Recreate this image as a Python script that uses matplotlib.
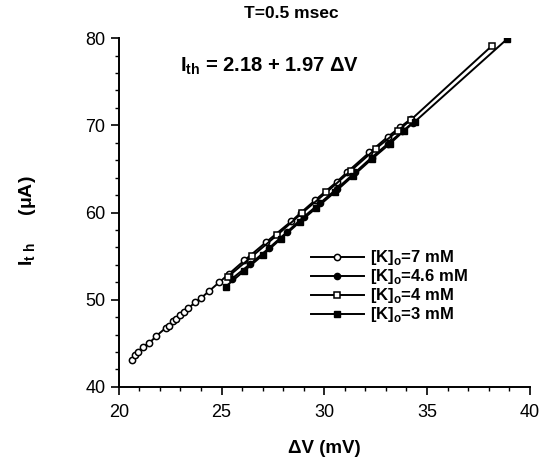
import matplotlib.pyplot as plt

plt.rcParams['font.family'] = ['Liberation Sans', 'DejaVu Sans']

# --- DATA ---
x_7mM = [20.64, 20.78, 20.93, 21.17, 21.47, 21.81, 22.30, 22.44, 22.64, 22.79,
         22.98, 23.18, 23.37, 23.72, 24.01, 24.40, 24.89, 25.38, 26.11, 27.17,
         28.40, 28.87, 29.55, 30.60, 31.10, 32.20, 33.10, 33.70, 34.20]
y_7mM = [43.1, 43.6, 44.0, 44.6, 45.0, 45.8, 46.8, 47.0, 47.5, 47.8,
         48.2, 48.6, 49.0, 49.7, 50.2, 51.0, 52.0, 53.0, 54.5, 56.6,
         59.0, 60.0, 61.4, 63.5, 64.6, 66.9, 68.7, 69.8, 70.7]

x_46mM = [25.5, 26.4, 27.3, 28.2, 29.0, 29.8, 30.6, 31.5, 32.3, 33.1, 33.8, 34.3]
y_46mM = [52.4, 54.1, 55.9, 57.8, 59.5, 61.1, 62.7, 64.6, 66.3, 67.9, 69.3, 70.3]

x_4mM = [25.3, 26.5, 27.7, 28.9, 30.1, 31.3, 32.5, 33.6, 34.2, 38.15]
y_4mM = [52.6, 55.0, 57.4, 59.9, 62.3, 64.8, 67.3, 69.4, 70.6, 79.1]

x_3mM = [25.2, 26.1, 27.0, 27.9, 28.8, 29.6, 30.5, 31.4, 32.3, 33.2, 33.9, 34.4, 38.9]
y_3mM = [51.5, 53.3, 55.1, 57.0, 58.9, 60.5, 62.3, 64.2, 66.1, 67.9, 69.4, 70.4, 79.9]

labels = [r'[K]$_{\mathregular{o}}$=7 mM', r'[K]$_{\mathregular{o}}$=4.6 mM',
          r'[K]$_{\mathregular{o}}$=4 mM', r'[K]$_{\mathregular{o}}$=3 mM']

# --- PLOT ---
fig = plt.figure(figsize=(5.45, 4.65), dpi=100)
ax = fig.add_axes([0.218, 0.168, 0.754, 0.75])

ax.plot(x_7mM, y_7mM, '-o', color='black', lw=1.4, ms=4.5, mfc='white', mew=1.1, label=labels[0])
ax.plot(x_46mM, y_46mM, '-o', color='black', lw=1.4, ms=4.5, mfc='black', label=labels[1])
ax.plot(x_4mM, y_4mM, '-s', color='black', lw=1.4, ms=5, mfc='white', mew=1.1, label=labels[2])
ax.plot(x_3mM, y_3mM, '-s', color='black', lw=1.4, ms=5, mfc='black', label=labels[3])

ax.set_xlim(20, 40)
ax.set_ylim(40, 80)
ax.set_xticks([20, 25, 30, 35, 40])
ax.set_xticks(range(20, 41), minor=True)
ax.set_yticks([40, 50, 60, 70, 80])
ax.set_yticks(range(40, 81, 2), minor=True)
ax.tick_params(which='major', length=6, width=1.2, labelsize=13, direction='out')
ax.tick_params(which='minor', length=3, width=1.0, direction='out')
ax.tick_params(axis='x', pad=6)
for s in ['top', 'right']:
    ax.spines[s].set_visible(False)
for s in ['left', 'bottom']:
    ax.spines[s].set_linewidth(1.4)

ax.set_xlabel('ΔV (mV)', fontsize=13.5, fontweight='bold', labelpad=14)
fig.text(0.05, 0.525, r'I$_{\mathregular{t\ h}}$     (μA)', rotation=90,
         fontsize=14, fontweight='bold', ha='center', va='center')

fig.text(0.535, 0.972, 'T=0.5 msec', fontsize=12.5, fontweight='bold', ha='center', va='center')
fig.text(0.495, 0.857, r'I$_{\mathregular{th}}$ = 2.18 + 1.97 ΔV', fontsize=14.5,
         fontweight='bold', ha='center', va='center')

leg = ax.legend(loc='upper left', bbox_to_anchor=(0.43, 0.44), frameon=False,
                handlelength=3.2, handletextpad=0.35, labelspacing=0.0,
                prop={'size': 12, 'weight': 'bold'})

fig.savefig('out.png', dpi=100)
